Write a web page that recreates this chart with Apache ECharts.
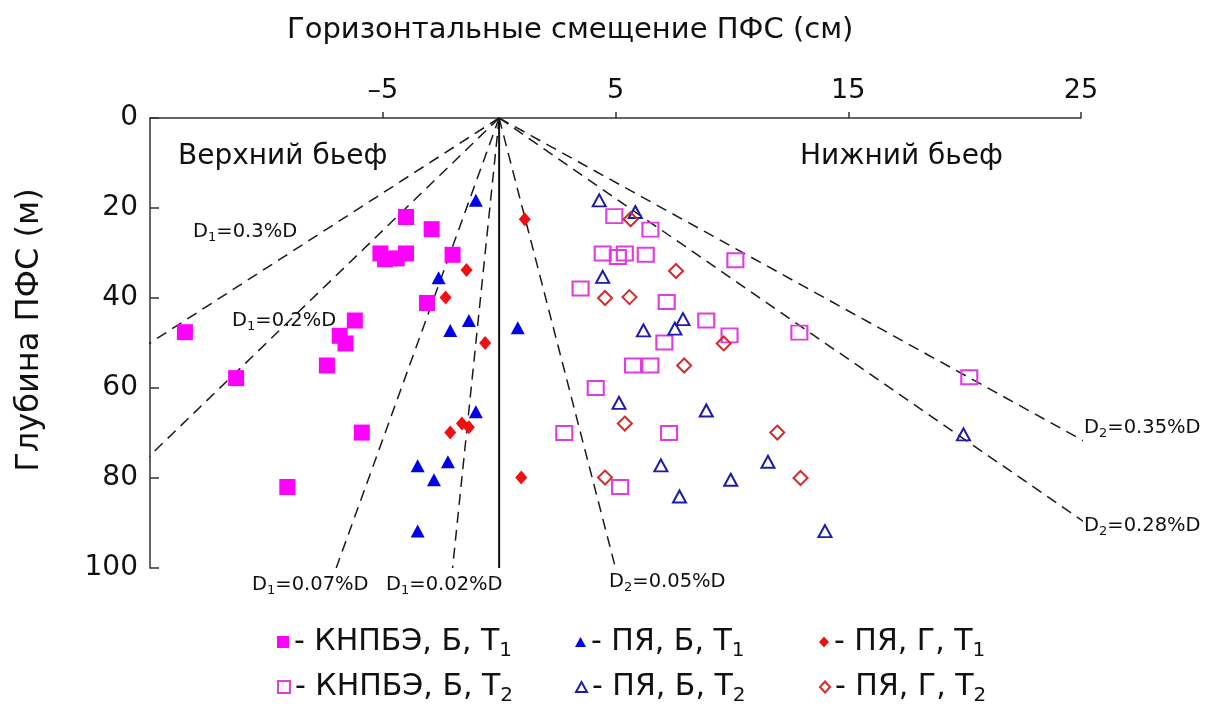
<!DOCTYPE html>
<html>
<head>
<meta charset="utf-8">
<script src="https://cdn.jsdelivr.net/npm/echarts@6/dist/echarts.min.js"></script>
<style>
  html, body { margin: 0; padding: 0; background: #fff; }
  #chart { width: 1205px; height: 709px; }
</style>
</head>
<body>
<div id="chart"></div>
<script>
// Horizontal displacement of the diaphragm (cm) vs depth (m)
// Each point: [displacement, depth]
const knpbeBT1 = [
  [-13.5, 47.6], [-11.3, 57.8], [-9.1, 82.0], [-5.9, 69.9], [-4.0, 22.0], [-2.9, 24.7],
  [-5.1, 30.1], [-4.9, 31.4], [-4.4, 31.2], [-4.0, 30.1], [-2.0, 30.4], [-3.1, 41.1],
  [-6.2, 45.0], [-6.85, 48.4], [-6.6, 50.1], [-7.4, 55.0]
];
const pyaBT1 = [
  [-1.0, 18.3], [-2.6, 35.5], [-1.3, 45.0], [-2.1, 47.2], [0.8, 46.6], [-1.0, 65.3],
  [-3.5, 77.3], [-2.2, 76.4], [-2.8, 80.4], [-3.5, 91.8]
];
const pyaGT1 = [
  [1.1, 22.5], [-1.4, 33.8], [-2.3, 39.9], [-0.6, 50.0], [-2.1, 69.9], [-1.6, 67.9],
  [-1.3, 68.7], [0.95, 79.9]
];
const knpbeBT2 = [
  [4.95, 21.8], [6.5, 24.8], [4.45, 30.1], [5.1, 30.9], [5.4, 30.1], [6.3, 30.4],
  [3.5, 37.9], [7.2, 40.9], [7.1, 49.9], [5.75, 55.0], [6.5, 55.0], [4.15, 60.0],
  [10.15, 31.6], [8.9, 45.0], [9.9, 48.3], [12.9, 47.7], [20.2, 57.6],
  [2.8, 70.0], [7.3, 70.0], [5.2, 82.0]
];
const pyaBT2 = [
  [4.3, 18.3], [5.85, 20.9], [4.45, 35.3], [6.2, 47.2], [7.55, 46.8], [7.9, 44.7],
  [5.15, 63.3], [6.95, 77.2], [7.75, 84.1], [11.55, 76.4], [9.95, 80.4], [14.0, 91.8],
  [19.95, 70.3], [8.9, 65.0]
];
const pyaGT2 = [
  [5.65, 22.5], [7.6, 34.0], [4.55, 40.0], [5.6, 39.8], [7.95, 55.0], [5.4, 67.9],
  [4.55, 79.9], [9.65, 50.1], [11.95, 69.9], [12.95, 80.0]
];

// Guide lines through the origin: displacement = rate(%) * depth
const guideRates = [-0.3, -0.2, -0.07, -0.02, 0.05, 0.28, 0.35];
const guideLabels = [
  'D{s|1}=0.3%D', 'D{s|1}=0.2%D', 'D{s|1}=0.07%D', 'D{s|1}=0.02%D',
  'D{s|2}=0.05%D', 'D{s|2}=0.28%D', 'D{s|2}=0.35%D'
];
const guideLabelPos = [
  [193, 232], [232, 321], [252, 585], [386, 585], [609, 582], [1084, 526], [1084, 428]
];

const seriesNames = [
  'КНПБЭ, Б, Т1', 'ПЯ, Б, Т1', 'ПЯ, Г, Т1',
  'КНПБЭ, Б, Т2', 'ПЯ, Б, Т2', 'ПЯ, Г, Т2'
];
const xTickValues = [-5, 5, 15, 25];
const depthMax = 100;

const FONT = 'DejaVu Sans';
const subRich = { s: { fontSize: 13, fontFamily: FONT, color: '#111', padding: [12, 0, 0, 0] } };

const chart = echarts.init(document.getElementById('chart'), null, { renderer: 'canvas' });

const guideSeries = guideRates.map((r) => ({
  type: 'line',
  data: [[0, 0], [r * depthMax, depthMax]],
  symbol: 'none',
  silent: true,
  clip: true,
  lineStyle: { color: '#1a1a1a', width: 1.5, type: [11, 7] },
  z: 1
}));

function filled(name, data, symbol, size, color) {
  return {
    name, type: 'scatter', data, symbol, symbolSize: size,
    itemStyle: { color, opacity: 1 }, z: 3
  };
}
function hollow(name, data, symbol, size, color) {
  return {
    name, type: 'scatter', data, symbol, symbolSize: size,
    itemStyle: { color: 'rgba(255,255,255,0)', borderColor: color, borderWidth: 2, opacity: 1 }, z: 3
  };
}

const legendText = (name) => '- ' + name.slice(0, -1) + '{s|' + name.slice(-1) + '}';
const legendStyle = {
  fontFamily: FONT, fontSize: 30, color: '#111',
  rich: { s: { fontSize: 20, fontFamily: FONT, color: '#111', padding: [17, 0, 0, 0] } }
};
// one legend per entry so the two rows line up in three columns
const legendCols = [272, 570, 814];
const legendRows = [622, 667];
const legendIcon = [[12, 12], [11, 10], [10, 11]];
const legends = seriesNames.map((n, i) => ({
  data: [n], left: legendCols[i % 3], top: legendRows[Math.floor(i / 3)],
  itemWidth: legendIcon[i % 3][0], itemHeight: legendIcon[i % 3][1],
  formatter: legendText, textStyle: legendStyle, selectedMode: false
}));

chart.setOption({
  animation: false,
  backgroundColor: '#fff',
  title: {
    text: 'Горизонтальные смещение ПФС (см)',
    left: 282, top: 11,
    textStyle: { fontFamily: FONT, fontSize: 29, fontWeight: 'normal', color: '#111' }
  },
  grid: { left: 150, top: 118, width: 931, height: 450 },
  xAxis: {
    type: 'value', position: 'top', min: -15, max: 25, interval: 5,
    axisLine: { show: true, onZero: false, lineStyle: { color: '#333', width: 1.5 } },
    axisTick: { show: true, customValues: xTickValues, length: 6, lineStyle: { color: '#333', width: 1.5 } },
    axisLabel: {
      customValues: xTickValues, margin: 14,
      fontFamily: FONT, fontSize: 27, color: '#111',
      formatter: (v) => (v < 0 ? '–' + Math.abs(v) : String(v))
    },
    splitLine: { show: false }
  },
  yAxis: {
    type: 'value', inverse: true, min: 0, max: depthMax, interval: 20,
    name: 'Глубина ПФС (м)', nameLocation: 'middle', nameGap: 104, nameRotate: 90,
    nameTextStyle: { fontFamily: FONT, fontSize: 32, color: '#111', padding: [0, 0, 0, 26] },
    axisLine: { show: true, onZero: false, lineStyle: { color: '#333', width: 1.5 } },
    axisTick: { show: true, inside: true, length: 9, lineStyle: { color: '#333', width: 1.5 } },
    axisLabel: { margin: 12, fontFamily: FONT, fontSize: 28, color: '#111' },
    splitLine: { show: false }
  },
  legend: legends,
  graphic: [
    { type: 'text', left: 178, top: 143, style: { text: 'Верхний бьеф', font: '28px ' + FONT, fill: '#111' } },
    { type: 'text', left: 800, top: 143, style: { text: 'Нижний бьеф', font: '28px ' + FONT, fill: '#111' } }
  ].concat(guideLabels.map((t, i) => ({
    type: 'text', x: guideLabelPos[i][0], y: guideLabelPos[i][1], z: 5,
    style: {
      text: t, fontFamily: FONT, fontSize: 19.5, fill: '#111',
      verticalAlign: 'middle', rich: subRich
    }
  }))),
  series: guideSeries.concat([
    {
      type: 'line', data: [[0, 0], [0, depthMax]], symbol: 'none', silent: true,
      lineStyle: { color: '#111', width: 2 }, z: 2
    },
    filled(seriesNames[0], knpbeBT1, 'rect', 16, '#ff00ff'),
    filled(seriesNames[1], pyaBT1, 'triangle', [14, 13], '#0000ee'),
    filled(seriesNames[2], pyaGT1, 'diamond', [12, 14], '#ee1111'),
    hollow(seriesNames[3], knpbeBT2, 'rect', [16, 14], '#e03ce0'),
    hollow(seriesNames[4], pyaBT2, 'triangle', [13, 12], '#1c1ca8'),
    hollow(seriesNames[5], pyaGT2, 'diamond', [14, 14], '#d42b2b')
  ])
});
</script>
</body>
</html>
